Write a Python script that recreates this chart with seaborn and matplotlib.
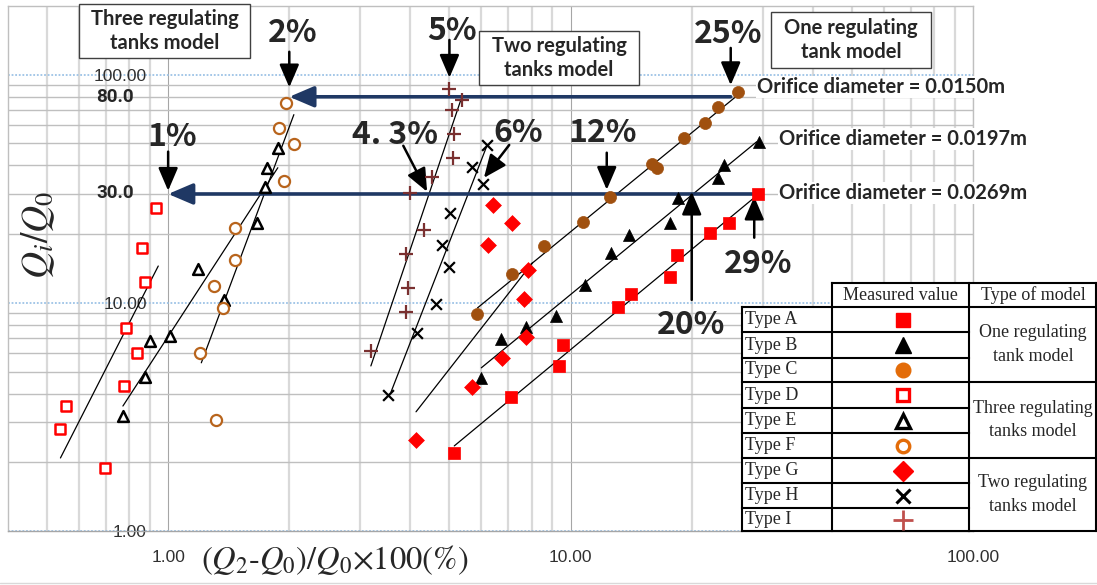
import matplotlib
matplotlib.use('Agg')
import matplotlib.pyplot as plt
import seaborn as sns
from matplotlib.ticker import FixedLocator, FixedFormatter, NullFormatter
from matplotlib.patches import Rectangle

# measured values: x = (Q2-Q0)/Q0*100 (%), y = Qi/Q0
a_x = [5.14, 7.12, 9.37, 9.6, 13.1, 14.1, 17.65, 18.4, 22.2, 24.7, 29.2]
a_y = [2.20, 3.87, 5.29, 6.54, 9.6, 10.95, 13.0, 16.2, 20.3, 22.4, 30.1]
b_x = [6.0, 6.73, 7.77, 9.22, 10.85, 12.6, 14.0, 17.7, 18.5, 23.2, 24.0, 29.4]
b_y = [4.69, 6.95, 7.85, 8.77, 12.0, 16.6, 19.9, 22.4, 28.9, 35.3, 40.3, 50.8]
c_x = [5.87, 7.17, 8.57, 10.75, 12.5, 15.9, 16.4, 19.1, 21.6, 23.2, 26.1]
c_y = [8.95, 13.4, 17.8, 22.7, 29.2, 40.7, 39.1, 52.9, 61.6, 72.4, 84.2]
d_x = [0.933, 0.861, 0.876, 0.785, 0.837, 0.776, 0.556, 0.540, 0.696]
d_y = [26.1, 17.4, 12.4, 7.77, 6.03, 4.32, 3.53, 2.80, 1.89]
e_x = [1.873, 1.758, 1.738, 1.660, 1.189, 1.380, 1.012, 0.902, 0.876, 0.772]
e_y = [47.8, 39.1, 32.3, 22.4, 14.1, 10.3, 7.17, 6.82, 4.74, 3.19]
f_x = [1.961, 1.884, 2.053, 1.939, 1.470, 1.462, 1.303, 1.365, 1.202, 1.318]
f_y = [75.4, 58.5, 49.8, 34.3, 21.3, 15.4, 11.9, 9.5, 6.0, 3.07]
g_x = [6.43, 7.17, 6.25, 7.86, 7.68, 7.77, 6.77, 5.70, 4.13]
g_y = [26.9, 22.4, 18.0, 13.95, 10.4, 7.09, 5.74, 4.28, 2.51]
h_x = [6.21, 5.70, 6.05, 5.02, 4.80, 5.00, 4.64, 4.15, 3.52]
h_y = [49.3, 39.5, 33.3, 24.8, 18.0, 14.4, 9.9, 7.39, 3.95]
i_x = [5.00, 5.38, 5.08, 5.14, 5.11, 4.53, 3.99, 4.33, 3.90, 3.94, 3.90, 3.19]
i_y = [86.8, 77.7, 70.2, 55.1, 43.2, 35.7, 30.4, 20.9, 16.4, 11.6, 9.13, 6.16]

# trend lines (end points)
a_fit_x, a_fit_y = [5.14, 29.2], [2.36, 29.8]
b_fit_x, b_fit_y = [6.0, 29.0], [5.19, 50.8]
c_fit_x, c_fit_y = [5.87, 26.1], [9.5, 81.7]
d_fit_x, d_fit_y = [0.540, 0.945], [2.09, 14.5]
e_fit_x, e_fit_y = [0.772, 1.873], [3.53, 39.1]
f_fit_x, f_fit_y = [1.209, 2.053], [5.46, 66.8]
g_fit_x, g_fit_y = [4.13, 8.04], [3.33, 14.98]
h_fit_x, h_fit_y = [3.58, 6.21], [4.07, 49.3]
i_fit_x, i_fit_y = [3.19, 5.35], [5.29, 78.5]

# threshold arrows (percent values)
blue_from_x = [25, 29]
blue_to_x = [2, 1]
blue_y = [80, 30]

x_ticks = [1, 10, 100]
x_tick_labels = ['1.00', '10.00', '100.00']
y_ticks = [1, 10, 100]
y_tick_labels = ['1.00', '10.00', '100.00']

types = ['Type A', 'Type B', 'Type C', 'Type D', 'Type E', 'Type F', 'Type G', 'Type H', 'Type I']
models = ['One regulating\ntank model', 'Three regulating\ntanks model', 'Two regulating\ntanks model']

W, H = 1097, 585
sns.set_style('white')
plt.rcParams['mathtext.fontset'] = 'stix'

fig = plt.figure(figsize=(W / 100, H / 100), dpi=100)
ax = fig.add_axes([8 / W, 1 - 531 / H, 965 / W, 525 / H])
ax.set_xscale('log')
ax.set_yscale('log')
ax.set_xlim(0.4, 100)
ax.set_ylim(1, 200)

minor_x = [m * 10.0 ** e for e in (-1, 0, 1) for m in range(2, 10) if 0.4 < m * 10.0 ** e < 100]
minor_y = [m * 10.0 ** e for e in (0, 1) for m in range(2, 10)]
ax.xaxis.set_major_locator(FixedLocator(x_ticks))
ax.xaxis.set_major_formatter(FixedFormatter(x_tick_labels))
ax.xaxis.set_minor_locator(FixedLocator(minor_x))
ax.xaxis.set_minor_formatter(NullFormatter())
ax.yaxis.set_major_locator(FixedLocator(y_ticks))
ax.yaxis.set_major_formatter(FixedFormatter(y_tick_labels))
ax.yaxis.set_minor_locator(FixedLocator(minor_y))
ax.yaxis.set_minor_formatter(NullFormatter())

ax.grid(which='major', axis='x', color='#A6A6A6', lw=0.8)
ax.grid(which='minor', axis='x', color='#D9D9D9', lw=1.6)
ax.grid(which='major', axis='y', color='#9DC3E6', lw=1.3, ls=(0, (1, 1)))
ax.grid(which='minor', axis='y', color='#BFBFBF', lw=1.0)
ax.set_axisbelow(True)
for sp in ax.spines.values():
    sp.set_color('#BFBFBF')
    sp.set_linewidth(1.0)
ax.spines['bottom'].set_color('#A6A6A6')

ax.tick_params(axis='x', which='major', length=4, color='#A6A6A6', pad=10, labelcolor='#303030')
ax.tick_params(axis='x', which='minor', length=0)
ax.tick_params(axis='y', which='both', length=0)
ax.tick_params(axis='y', which='major', pad=-100, labelcolor='#303030')
for lab in ax.get_xticklabels() + ax.get_yticklabels():
    lab.set_fontfamily('Liberation Sans')
    lab.set_fontsize(12.5)

# trend lines
for fx, fy in [(a_fit_x, a_fit_y), (b_fit_x, b_fit_y), (c_fit_x, c_fit_y),
               (d_fit_x, d_fit_y), (e_fit_x, e_fit_y), (f_fit_x, f_fit_y),
               (g_fit_x, g_fit_y), (h_fit_x, h_fit_y), (i_fit_x, i_fit_y)]:
    sns.lineplot(x=fx, y=fy, ax=ax, color='black', linewidth=0.9,
                 estimator=None, sort=False, legend=False)

# blue threshold arrows
for x0, x1, yv in zip(blue_from_x, blue_to_x, blue_y):
    ax.annotate('', xy=(x1, yv), xytext=(x0, yv),
                arrowprops=dict(arrowstyle='-|>,head_length=0.75,head_width=0.32',
                                mutation_scale=20, color='#1F3864', lw=2.6,
                                shrinkA=0, shrinkB=0))

# markers
styles = [
    (a_x, a_y, dict(marker='s', s=70, color='#FF0000', edgecolor='#FF0000', linewidth=0.5)),
    (b_x, b_y, dict(marker='^', s=75, color='black', edgecolor='black', linewidth=0.5)),
    (c_x, c_y, dict(marker='o', s=75, color='#A0500F', edgecolor='#A0500F', linewidth=0.5)),
    (d_x, d_y, dict(marker='s', s=48, facecolor='white', edgecolor='#FF0000', linewidth=1.8)),
    (e_x, e_y, dict(marker='^', s=60, facecolor='white', edgecolor='black', linewidth=1.8)),
    (f_x, f_y, dict(marker='o', s=64, facecolor='white', edgecolor='#B8641C', linewidth=1.6)),
    (g_x, g_y, dict(marker='D', s=65, color='#FF0000', edgecolor='#FF0000', linewidth=0.5)),
    (h_x, h_y, dict(marker='x', s=60, color='black', linewidth=1.6)),
    (i_x, i_y, dict(marker='+', s=110, color='#7A3030', linewidth=1.6)),
]
for sx, sy, kw in styles:
    sns.scatterplot(x=sx, y=sy, ax=ax, legend=False, zorder=4, **kw)

# black pointer arrows (tail -> tip, data coords)
pointers = [((2.0, 126), (2.0, 88)), ((1.0, 46), (1.0, 31)), ((5.0, 142), (5.0, 97)),
            ((12.3, 45.5), (12.3, 31.3)), ((25.0, 131), (25.0, 90)),
            ((3.84, 48.8), (4.4, 30.7)), ((7.04, 49.2), (6.09, 35.3)),
            ((20.0, 10.3), (20.0, 30.7)), ((28.6, 19.3), (28.6, 29.2))]
for tail, tip in pointers:
    ax.annotate('', xy=tip, xytext=tail,
                arrowprops=dict(arrowstyle='-|>,head_length=0.7,head_width=0.3',
                                mutation_scale=20, color='black', lw=1.8,
                                shrinkA=0, shrinkB=0))

# overlay in pixel coordinates for labels, boxes and the legend table
ov = fig.add_axes([0, 0, 1, 1], zorder=10)
ov.set_xlim(0, W)
ov.set_ylim(H, 0)
ov.axis('off')

pct_font = ['Noto Sans CJK JP', 'DejaVu Sans']
for txt, px, py in [('2%', 293, 33), ('1%', 172, 137), ('5%', 452, 31), ('4. 3%', 395, 135),
                    ('6%', 518, 133), ('12%', 603, 133), ('25%', 728, 34),
                    ('20%', 691, 325), ('29%', 758, 264)]:
    ov.text(px, py, txt, ha='center', va='center', fontsize=23, fontweight='bold',
            family=pct_font)

ov.text(134, 97, '80.0', ha='right', va='center', fontsize=13.5, fontweight='bold', family='Roboto')
ov.text(134, 193, '30.0', ha='right', va='center', fontsize=13.5, fontweight='bold', family='Roboto')

box_font = dict(family='Lato', fontweight='bold', fontsize=14.5)
for txt, x0, y0, x1, y1 in [('Three regulating\ntanks model', 79, 4, 250, 58),
                            ('Two regulating\ntanks model', 479, 31, 639, 85),
                            ('One regulating\ntank model', 771, 12, 931, 68)]:
    ov.add_patch(Rectangle((x0, y0), x1 - x0, y1 - y0, fc='white', ec='#404040', lw=1.0))
    ov.text((x0 + x1) / 2, (y0 + y1) / 2, txt, ha='center', va='center', linespacing=1.2, **box_font)

for txt, px, py in [('Orifice diameter = 0.0150m', 757, 87),
                    ('Orifice diameter = 0.0197m', 779, 139),
                    ('Orifice diameter = 0.0269m', 779, 193)]:
    ov.text(px, py, txt, ha='left', va='center',
            bbox=dict(fc='white', ec='none', pad=1), **box_font)

ov.text(38, 235, r'$Q_i/Q_0$', rotation=90, ha='center', va='center', fontsize=27)
ov.text(335, 560, r'($Q_2$-$Q_0$)/$Q_0$×100(%)', ha='center', va='center', fontsize=23.5,
        family='STIXGeneral')

# legend table
rows = [307, 332, 358, 382, 408, 433, 458, 483, 508, 531]
ov.add_patch(Rectangle((742, 307), 355, 224, fc='white', ec='none'))
ov.add_patch(Rectangle((832, 283), 265, 24, fc='white', ec='none'))
lk = dict(color='black', lw=1.5, solid_capstyle='projecting')
ov.plot([832, 1096], [283, 283], **lk)
for yv in rows:
    ov.plot([742, 969], [yv, yv], **lk)
for yv in [307, 382, 458, 531]:
    ov.plot([969, 1096], [yv, yv], **lk)
ov.plot([742, 742], [307, 531], **lk)
for xv in [832, 969, 1096]:
    ov.plot([xv, xv], [283, 531], **lk)

serif = dict(family='Liberation Serif', fontsize=13)
ov.text(900, 295, 'Measured value', ha='center', va='center', **serif)
ov.text(1033, 295, 'Type of model', ha='center', va='center', **serif)
for k, name in enumerate(types):
    ov.text(745, (rows[k] + rows[k + 1]) / 2, name, ha='left', va='center', **serif)
for k, name in enumerate(models):
    ov.text(1033, (rows[3 * k] + rows[3 * k + 3]) / 2, name, ha='center', va='center',
            linespacing=1.5, **serif)

leg_marks = [
    dict(marker='s', ms=10, mfc='#FF0000', mec='#FF0000'),
    dict(marker='^', ms=11, mfc='black', mec='black'),
    dict(marker='o', ms=10.5, mfc='#E36C09', mec='#E36C09'),
    dict(marker='s', ms=8.5, mfc='white', mec='#FF0000', mew=2.4),
    dict(marker='^', ms=9.5, mfc='white', mec='black', mew=2.4),
    dict(marker='o', ms=9, mfc='white', mec='#E36C09', mew=2.4),
    dict(marker='D', ms=10, mfc='#FF0000', mec='#FF0000'),
    dict(marker='x', ms=10, mec='black', mew=2.2),
    dict(marker='+', ms=14, mec='#C0504D', mew=2.0),
]
for k, mk in enumerate(leg_marks):
    ov.plot([903], [(rows[k] + rows[k + 1]) / 2], ls='none', **mk)

ov.plot([0, W], [583, 583], color='#D9D9D9', lw=1.0)

fig.savefig('out.png', dpi=100)
